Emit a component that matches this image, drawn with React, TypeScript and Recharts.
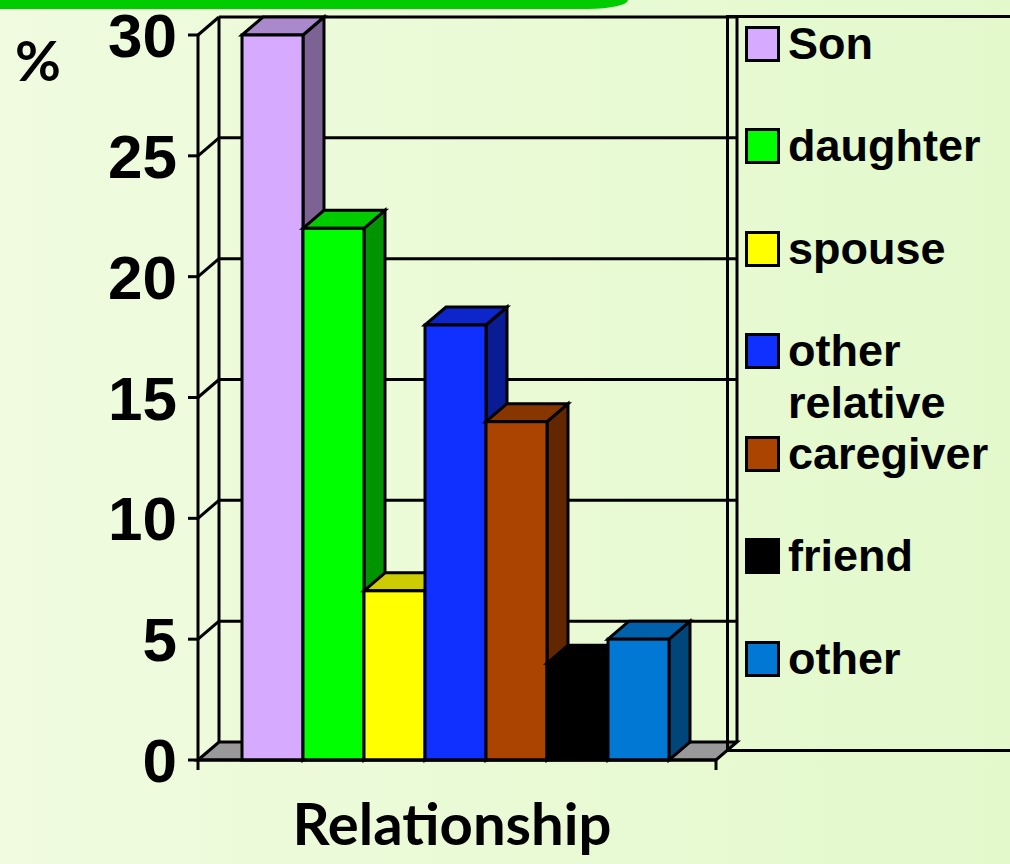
import React from "react";
import { BarChart, Bar, XAxis, YAxis, CartesianGrid, Legend } from "recharts";

const categories = ["Son", "daughter", "spouse", "other relative", "caregiver", "friend", "other"];
const percents = [30, 22, 7, 18, 14, 4, 5];
const yTicks = [0, 5, 10, 15, 20, 25, 30];
const axisTitle = "Relationship";
const unitLabel = "%";

const barColors = ["#D5AAFF", "#00FF00", "#FFFF00", "#1030FF", "#AA4400", "#000000", "#0078D4"];

// depth of the fake 3d box
const DX = 21;
const DY = -18;

const row: Record<string, string | number> = { name: axisTitle };
categories.forEach((c, i) => {
  row["s" + i] = percents[i];
});
const data = [row];

function shade(hex: string, f: number) {
  const n = parseInt(hex.slice(1), 16);
  const r = Math.round(((n >> 16) & 255) * f);
  const g = Math.round(((n >> 8) & 255) * f);
  const b = Math.round((n & 255) * f);
  return `rgb(${r},${g},${b})`;
}

function Box3D(props: any) {
  const { x, y, width: w, height: h, fill } = props;
  if (w == null || h == null) return null;
  const top = `${x},${y} ${x + DX},${y + DY} ${x + w + DX},${y + DY} ${x + w},${y}`;
  const side = `${x + w},${y} ${x + w + DX},${y + DY} ${x + w + DX},${y + h + DY} ${x + w},${y + h}`;
  return (
    <g stroke="#000" strokeWidth={3}>
      <polygon points={side} fill={shade(fill, 0.58)} />
      <polygon points={top} fill={shade(fill, 0.8)} />
      <rect x={x} y={y} width={w} height={h} fill={fill} />
    </g>
  );
}

// back wall lines, diagonals and the grey floor, all from the grid's own points
function WallLine(p: any) {
  const { x1, x2, y1, index } = p;
  const pts: number[] = p.horizontalPoints || [];
  const top = pts.length ? Math.min(...pts) : p.y;
  const bottom = pts.length ? Math.max(...pts) : p.y + p.height;
  const isFloor = Math.abs(y1 - bottom) < 0.5;
  return (
    <g key={"wall-" + index} stroke="#000" strokeWidth={3} fill="none">
      {isFloor ? (
        <>
          <line x1={x1 + DX} y1={top + DY} x2={x1 + DX} y2={bottom + DY} />
          <line x1={x2 + DX} y1={top + DY} x2={x2 + DX} y2={bottom + DY} />
          <polygon
            points={`${x1},${y1} ${x1 + DX},${y1 + DY} ${x2 + DX},${y1 + DY} ${x2},${y1}`}
            fill="#999999"
          />
          <line x1={x1} y1={y1} x2={x1} y2={y1 + 10} />
          <line x1={x2} y1={y1} x2={x2} y2={y1 + 10} />
        </>
      ) : (
        <>
          <line x1={x1} y1={y1} x2={x1 + DX} y2={y1 + DY} />
          <line x1={x1 + DX} y1={y1 + DY} x2={x2 + DX} y2={y1 + DY} />
        </>
      )}
    </g>
  );
}

function YTick(props: any) {
  const { x, y, payload } = props;
  return (
    <text
      x={x}
      y={y}
      dy={22}
      textAnchor="end"
      fontFamily='"Liberation Sans", Arial, sans-serif'
      fontWeight={700}
      fontSize={62}
      fill="#000"
    >
      {payload.value}
    </text>
  );
}

// legend keeps the series order of the source chart
function LegendBox() {
  return (
    <div
      style={{
        boxSizing: "border-box",
        width: 284,
        height: 737,
        borderTop: "3px solid #000",
        borderLeft: "3px solid #000",
        borderBottom: "3px solid #000",
        position: "relative",
      }}
    >
      {categories.map((c, i) => (
        <div
          key={c}
          style={{ position: "absolute", left: 16, top: i * 102.5 - 0.5, display: "flex", alignItems: "flex-start" }}
        >
          <div
            style={{
              width: 35,
              height: 36,
              boxSizing: "border-box",
              border: "3px solid #000",
              background: barColors[i],
              marginTop: 8,
            }}
          />
          <div
            style={{
              marginLeft: 8,
              width: 215,
              fontFamily: '"Liberation Sans", Arial, sans-serif',
              fontWeight: 700,
              fontSize: 45,
              lineHeight: "52px",
              color: "#000",
              textAlign: "left",
            }}
          >
            {c}
          </div>
        </div>
      ))}
    </div>
  );
}

export default function App() {
  return (
    <div
      style={{
        position: "absolute",
        left: 0,
        top: 0,
        width: 1010,
        height: 864,
        overflow: "hidden",
        background: "linear-gradient(to right, #F0FBDF, #E3F9CC)",
      }}
    >
      <div
        style={{
          position: "absolute",
          left: 0,
          top: 0,
          width: 628,
          height: 9,
          background: "#00CC00",
          borderBottomRightRadius: "40px 9px",
        }}
      />
      <BarChart
        width={1010}
        height={864}
        data={data}
        margin={{ top: 35, right: 294, bottom: 40, left: 0 }}
        barCategoryGap={44}
        barGap={0}
      >
        <CartesianGrid vertical={false} horizontal={(p: any) => <WallLine {...p} />} />
        <XAxis
          dataKey="name"
          tick={false}
          tickLine={false}
          height={64}
          axisLine={{ stroke: "#000", strokeWidth: 3 }}
          label={{
            content: (p: any) => {
              const vb = p.viewBox || {};
              return (
                <text
                  x={vb.x + vb.width / 2 - 5}
                  y={vb.y + 85}
                  textAnchor="middle"
                  fontFamily="Lato"
                  fontWeight={700}
                  fontSize={58}
                  fill="#000"
                >
                  {axisTitle}
                </text>
              );
            },
          }}
        />
        <YAxis
          domain={[0, 30]}
          ticks={yTicks}
          interval={0}
          width={198}
          tickSize={10}
          tickMargin={11}
          tick={<YTick />}
          axisLine={{ stroke: "#000", strokeWidth: 3 }}
          tickLine={{ stroke: "#000", strokeWidth: 3 }}
          label={{
            content: (p: any) => {
              const vb = p.viewBox || {};
              return (
                <text
                  x={vb.x + 38}
                  y={vb.y + 46}
                  textAnchor="middle"
                  fontFamily="Lato"
                  fontWeight={700}
                  fontSize={56}
                  fill="#000"
                >
                  {unitLabel}
                </text>
              );
            },
          }}
        />
        <Legend
          layout="vertical"
          align="center"
          verticalAlign="middle"
          content={<LegendBox />}
          wrapperStyle={{ left: 726, top: 15, width: 284, height: 737 }}
        />
        {categories.map((c, i) => (
          <Bar key={c} dataKey={"s" + i} name={c} fill={barColors[i]} shape={<Box3D />} isAnimationActive={false} />
        ))}
      </BarChart>
    </div>
  );
}
